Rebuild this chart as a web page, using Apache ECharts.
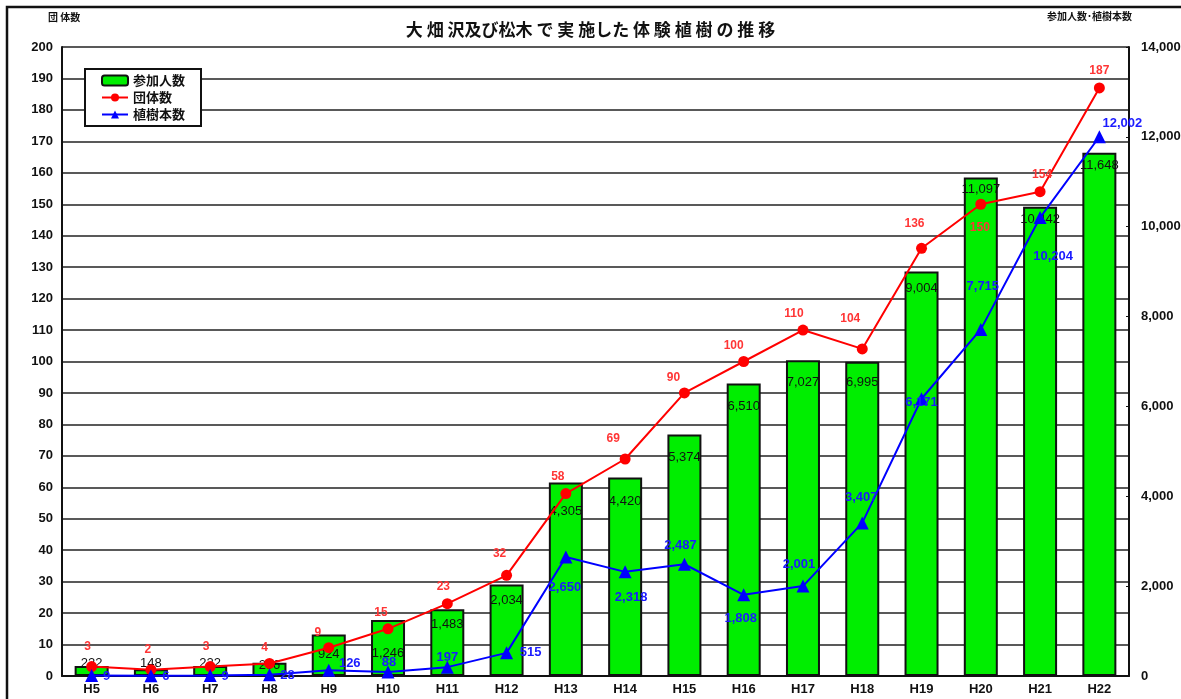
<!DOCTYPE html>
<html>
<head>
<meta charset="utf-8">
<script src="https://cdn.jsdelivr.net/npm/echarts@6/dist/echarts.min.js"></script>
<style>
html, body { margin: 0; padding: 0; background: #fff; }
#root { width: 1181px; height: 699px; }
</style>
</head>
<body>
<div id="root"></div>
<script>
// 年度
var years = ['H5', 'H6', 'H7', 'H8', 'H9', 'H10', 'H11', 'H12', 'H13', 'H14', 'H15', 'H16', 'H17', 'H18', 'H19', 'H20', 'H21', 'H22'];
// 参加人数
var participants = [222, 148, 222, 296, 924, 1246, 1483, 2034, 4305, 4420, 5374, 6510, 7027, 6995, 9004, 11097, 10442, 11648];
// 団体数
var groups = [3, 2, 3, 4, 9, 15, 23, 32, 58, 69, 90, 100, 110, 104, 136, 150, 154, 187];
// 植樹本数
var trees = [9, 6, 9, 28, 126, 88, 197, 515, 2650, 2318, 2487, 1808, 2001, 3407, 6171, 7715, 10204, 12002];

// ラベルの位置ずらし（見た目だけ）
var barLabelShift = [-3, -6, -3, 2, 19, 33, 15, 15, 28, 24, 22, 22, 22, 20, 16, 11, 12, 12];
var groupLabelOffset = [[-4, -20], [-3, -20], [-4, -20], [-5, -16], [-11, -15], [-7, -16], [-4, -17], [-7, -22], [-8, -17],
  [-12, -20], [-11, -15], [-10, -16], [-9, -16], [-12, -30], [-7, -25], [-1, 23], [2, -17], [0, -17]];
var treeLabelOffset = [[15, 1], [15, 1], [15, 1], [18, 1], [21, -7], [1, -10], [0, -10], [24, 0], [-1, 30],
  [6, 26], [-4, -19], [-3, 24], [-4, -22], [-1, -26], [0, 4], [2, -43], [13, 39], [23, -13]];

function comma(v) {
  return String(v).replace(/\B(?=(\d{3})+(?!\d))/g, ',');
}

var jp = '"Noto Sans CJK JP", sans-serif';
var num = '"Liberation Sans", Arial, sans-serif';

var option = {
  animation: false,
  backgroundColor: '#fff',
  title: {
    text: '大 畑 沢及び松木 で 実 施した 体 験 植 樹 の 推 移',
    left: 'center',
    top: 16,
    textStyle: { fontFamily: jp, fontSize: 17, fontWeight: 'bold', color: '#111' }
  },
  graphic: [
    {
      type: 'rect',
      shape: { x: 7, y: 7, width: 1200, height: 720 },
      style: { fill: 'none', stroke: '#111', lineWidth: 2.5 },
      silent: true
    },
    {
      type: 'text', left: 48, top: 12,
      style: { text: '団 体数', fontFamily: jp, fontSize: 10, fontWeight: 'bold', fill: '#111' }
    },
    {
      type: 'text', left: 1047, top: 11,
      style: { text: '参加人数･植樹本数', fontFamily: jp, fontSize: 10, fontWeight: 'bold', fill: '#111' }
    }
  ],
  legend: {
    orient: 'vertical',
    left: 85,
    top: 69,
    padding: [5, 16, 5, 16],
    itemGap: 4,
    itemWidth: 26,
    itemHeight: 10,
    backgroundColor: '#fff',
    borderColor: '#111',
    borderWidth: 2,
    borderRadius: 0,
    textStyle: { fontFamily: jp, fontSize: 13, fontWeight: 'bold', color: '#111' },
    data: ['参加人数', '団体数', '植樹本数']
  },
  grid: { left: 62, right: 52, top: 47, bottom: 23, containLabel: false, outerBoundsMode: 'none' },
  xAxis: {
    type: 'category',
    data: years,
    axisLine: { lineStyle: { color: '#111', width: 2 } },
    axisTick: { inside: true, length: 5, lineStyle: { color: '#111', width: 1.5 } },
    axisLabel: { fontFamily: num, fontSize: 13, fontWeight: 'bold', color: '#111', margin: 7 }
  },
  yAxis: [
    {
      type: 'value',
      min: 0, max: 200, interval: 10,
      axisLine: { show: true, lineStyle: { color: '#111', width: 2 } },
      axisTick: { show: false },
      splitLine: { lineStyle: { color: '#222', width: 1.5 } },
      axisLabel: { fontFamily: num, fontSize: 13, fontWeight: 'bold', color: '#111', margin: 9 }
    },
    {
      type: 'value',
      min: 0, max: 14000, interval: 2000,
      position: 'right',
      axisLine: { show: true, lineStyle: { color: '#111', width: 2 } },
      axisTick: { show: true, inside: true, length: 3, lineStyle: { color: '#111' } },
      splitLine: { show: false },
      axisLabel: {
        fontFamily: num, fontSize: 13, fontWeight: 'bold', color: '#111', margin: 12,
        formatter: function (v) { return comma(v); }
      }
    }
  ],
  series: [
    {
      name: '参加人数',
      type: 'bar',
      yAxisIndex: 1,
      barWidth: 34,
      itemStyle: { color: '#00ee00', borderColor: '#111', borderWidth: 2 },
      label: {
        show: true,
        position: 'insideTop',
        distance: 0,
        fontFamily: num,
        fontSize: 13,
        color: '#111',
        formatter: function (p) { return comma(p.value); }
      },
      data: participants.map(function (v, i) {
        return { value: v, label: { offset: [0, barLabelShift[i] - 6] } };
      }),
      z: 2
    },
    {
      name: '団体数',
      type: 'line',
      yAxisIndex: 0,
      symbol: 'circle',
      symbolSize: 11,
      itemStyle: { color: '#ff0000' },
      lineStyle: { color: '#ff0000', width: 2 },
      label: {
        show: true,
        position: 'inside',
        fontFamily: num,
        fontSize: 12,
        fontWeight: 'bold',
        color: '#ff3535'
      },
      data: groups.map(function (v, i) {
        return { value: v, label: { offset: groupLabelOffset[i] } };
      }),
      z: 4
    },
    {
      name: '植樹本数',
      type: 'line',
      yAxisIndex: 1,
      symbol: 'triangle',
      symbolSize: 13,
      itemStyle: { color: '#0000ff' },
      lineStyle: { color: '#0000ff', width: 2 },
      label: {
        show: true,
        position: 'inside',
        fontFamily: num,
        fontSize: 13,
        fontWeight: 'bold',
        color: '#1a1aff',
        formatter: function (p) { return comma(p.value); }
      },
      data: trees.map(function (v, i) {
        return { value: v, label: { offset: treeLabelOffset[i] } };
      }),
      z: 5
    }
  ]
};

var myChart = echarts.init(document.getElementById('root'));
myChart.setOption(option);
</script>
</body>
</html>
